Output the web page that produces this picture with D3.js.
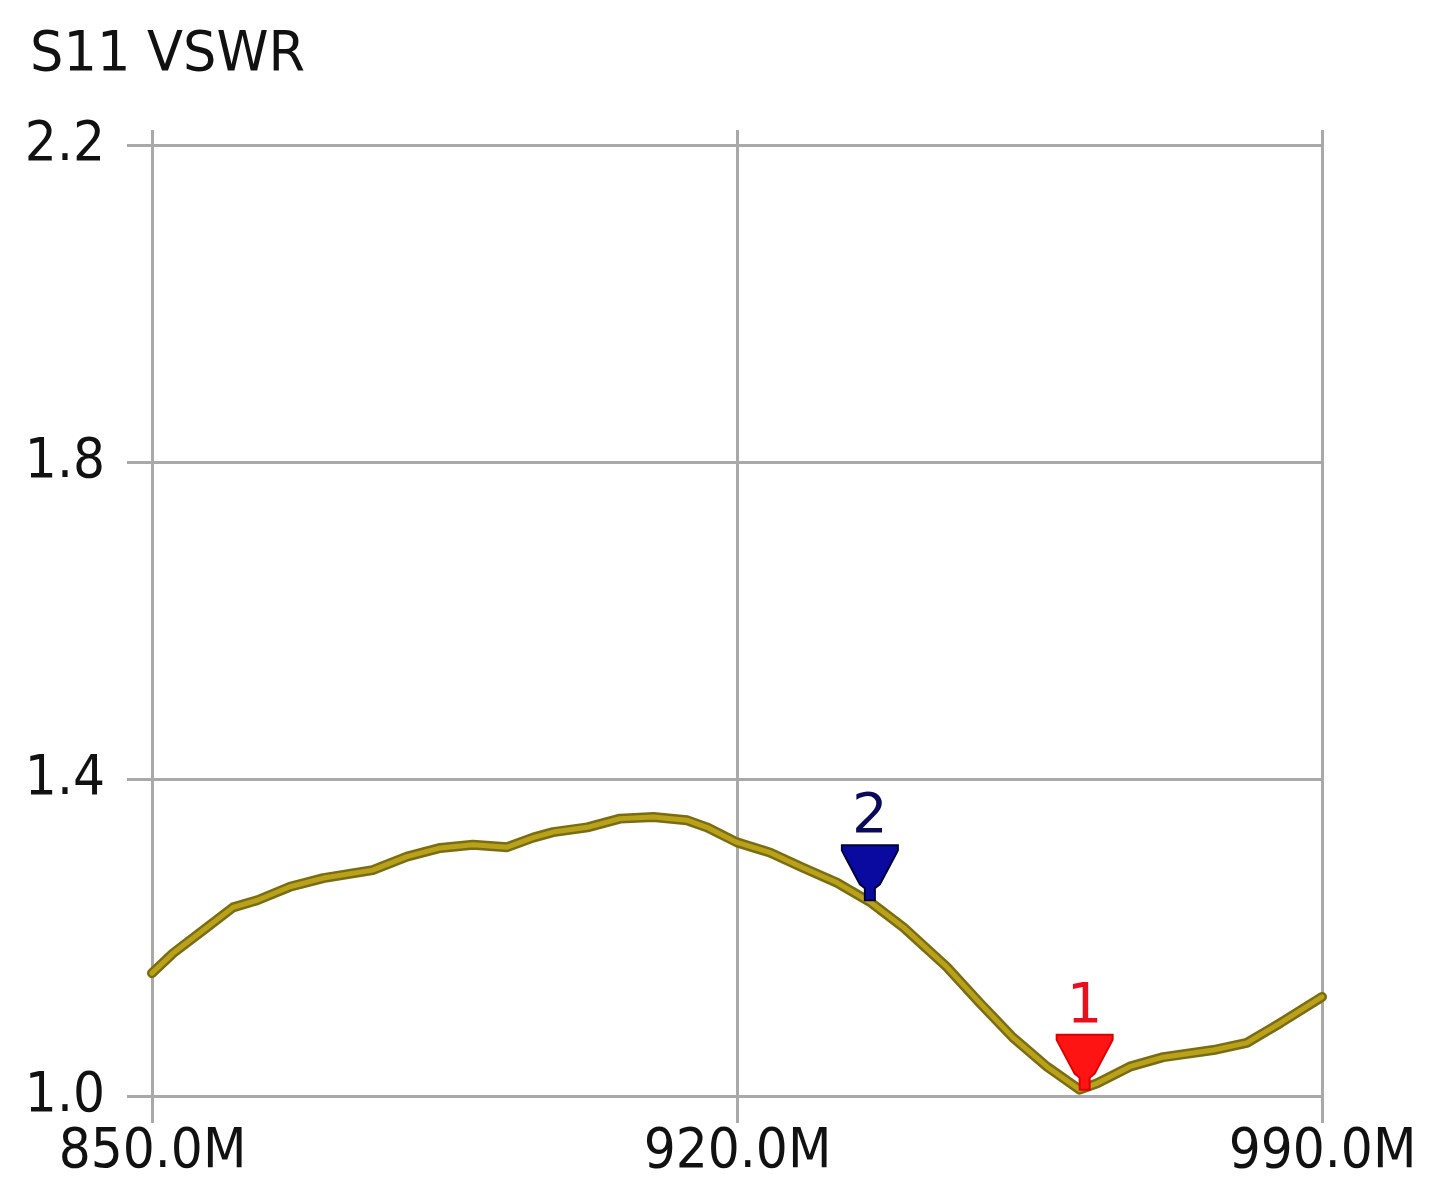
<!DOCTYPE html>
<html lang="en">
<head>
    <meta charset="UTF-8">
    <title>S11 VSWR</title>
    <style>
        body { margin: 0; background: #fff; }
        svg { display: block; }
        .grid line { stroke: #a9a9a9; stroke-width: 3px; }
        .grid path { display: none; }
        .grid text, .title, .mk-label { font-family: "DejaVu Sans", Verdana, sans-serif; font-size: 56px; fill: #111; }
    </style>
    <script src="https://d3js.org/d3.v7.min.js"></script>
</head>
<body>
    <svg width="1442" height="1190"></svg>
    <script>
        // trace (MHz, VSWR)
        var freqs = [850.0, 852.5, 856.6, 859.7, 862.6, 866.5, 870.5, 876.4, 880.5, 884.5,
                     888.4, 892.5, 895.6, 898.0, 902.1, 906.0, 910.0, 914.0, 916.4, 920.0,
                     924.0, 927.9, 932.0, 935.9, 939.9, 945.1, 949.1, 953.0, 957.1, 961.0,
                     963.1, 967.0, 971.0, 977.0, 981.0, 985.0, 990.0];
        var vswr  = [1.155, 1.180, 1.213, 1.238, 1.247, 1.264, 1.275, 1.285, 1.302, 1.313,
                     1.317, 1.314, 1.326, 1.333, 1.339, 1.350, 1.352, 1.348, 1.339, 1.320,
                     1.307, 1.288, 1.269, 1.245, 1.213, 1.163, 1.117, 1.074, 1.037, 1.008,
                     1.016, 1.037, 1.049, 1.058, 1.067, 1.092, 1.125];

        var xTicks = [850, 920, 990];
        var yTicks = [1.0, 1.4, 1.8, 2.2];

        var markerIds    = ["1", "2"];
        var markerFreqs  = [961.6, 935.9];
        var markerValues = [1.008, 1.247];
        var markerFill   = ["#ff1414", "#0a0aa0"];
        var markerEdge   = ["#e00000", "#00003c"];
        var markerText   = ["#e8101c", "#0a0a5a"];

        var margin = { top: 145, right: 120, bottom: 94, left: 152 },
            width = 1442 - margin.left - margin.right,
            height = 1190 - margin.top - margin.bottom;

        var svg = d3.select("svg");
        var g = svg.append("g")
            .attr("transform", "translate(" + margin.left + "," + margin.top + ")");

        var x = d3.scaleLinear().domain([850, 990]).range([0, width]);
        var y = d3.scaleLinear().domain([1.0, 2.2]).range([height, 0]);

        svg.append("text")
            .attr("class", "title")
            .attr("transform", "translate(30,70) scale(0.94,1)")
            .text("S11 VSWR");

        // horizontal grid + y labels
        var yAxis = g.append("g")
            .attr("class", "grid")
            .call(d3.axisLeft(y).tickValues(yTicks).tickFormat(d3.format(".1f"))
                .tickSize(-width).tickSizeOuter(0));
        yAxis.selectAll("line").attr("x1", -25);
        yAxis.selectAll("text")
            .attr("x", -47 / 0.9)
            .attr("y", 14)
            .attr("dy", null)
            .attr("transform", "scale(0.9,1)");

        // vertical grid + x labels
        var xAxis = g.append("g")
            .attr("class", "grid")
            .attr("transform", "translate(0," + height + ")")
            .call(d3.axisBottom(x).tickValues(xTicks)
                .tickFormat(function(d) { return d.toFixed(1) + "M"; })
                .tickSize(-(height + 15)).tickSizeOuter(0));
        xAxis.selectAll("line").attr("y1", 27);
        xAxis.selectAll("text")
            .attr("y", 71)
            .attr("dy", null)
            .attr("transform", "scale(0.9,1)");

        var pts = freqs.map(function(f, i) { return [f, vswr[i]]; });
        var line = d3.line()
            .x(function(d) { return x(d[0]); })
            .y(function(d) { return y(d[1]); });

        g.append("path")
            .datum(pts)
            .attr("fill", "none")
            .attr("stroke", "#7a6c12")
            .attr("stroke-width", 10)
            .attr("stroke-linejoin", "round")
            .attr("stroke-linecap", "round")
            .attr("d", line);
        g.append("path")
            .datum(pts)
            .attr("fill", "none")
            .attr("stroke", "#b9a11a")
            .attr("stroke-width", 5)
            .attr("stroke-linejoin", "round")
            .attr("stroke-linecap", "round")
            .attr("d", line);

        // markers: stepped downward triangles with number above
        var tri = "M-28,-55 L28,-55 L28,-50 L26,-46 L10,-16 L5,-12 L5,0 L-5,0 L-5,-12 L-10,-16 L-26,-46 L-28,-50 Z";
        var mk = g.selectAll("g.marker")
            .data(markerIds)
            .enter().append("g")
            .attr("class", "marker")
            .attr("transform", function(d, i) {
                return "translate(" + x(markerFreqs[i]) + "," + y(markerValues[i]) + ")";
            });
        mk.append("path")
            .attr("d", tri)
            .attr("fill", function(d, i) { return markerFill[i]; })
            .attr("stroke", function(d, i) { return markerEdge[i]; })
            .attr("stroke-width", 2);
        mk.append("text")
            .attr("class", "mk-label")
            .attr("text-anchor", "middle")
            .attr("y", -68)
            .style("fill", function(d, i) { return markerText[i]; })
            .text(function(d) { return d; });
    </script>
</body>
</html>
